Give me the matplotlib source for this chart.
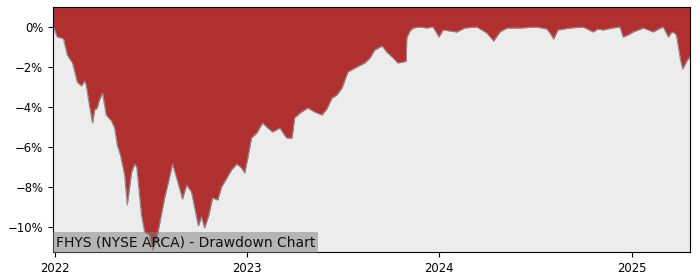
import pandas as pd
import matplotlib
matplotlib.use("Agg")
import matplotlib.pyplot as plt
import matplotlib.ticker as mticker

# drawdown of FHYS in percent
dates = [
    "2021-12-29", "2021-12-30", "2022-01-06", "2022-01-14", "2022-01-18", "2022-01-25",
    "2022-02-04", "2022-02-13", "2022-02-21", "2022-02-27", "2022-03-02", "2022-03-08",
    "2022-03-14", "2022-03-18", "2022-03-23", "2022-03-27", "2022-04-02", "2022-04-09",
    "2022-04-19", "2022-04-25", "2022-04-30", "2022-05-06", "2022-05-14", "2022-05-19",
    "2022-05-27", "2022-06-02", "2022-06-06", "2022-06-15", "2022-06-21", "2022-06-30",
    "2022-07-06", "2022-07-14", "2022-07-19", "2022-07-29", "2022-08-07", "2022-08-13",
    "2022-08-23", "2022-09-01", "2022-09-09", "2022-09-18", "2022-09-28", "2022-10-01",
    "2022-10-07", "2022-10-13", "2022-10-21", "2022-10-28", "2022-11-07", "2022-11-14",
    "2022-11-24", "2022-12-03", "2022-12-13", "2022-12-22", "2022-12-28", "2023-01-03",
    "2023-01-10", "2023-01-20", "2023-01-31", "2023-02-10", "2023-02-19", "2023-03-05",
    "2023-03-11", "2023-03-18", "2023-03-28", "2023-04-02", "2023-04-12", "2023-04-27",
    "2023-05-10", "2023-05-24", "2023-06-02", "2023-06-12", "2023-06-21", "2023-07-01",
    "2023-07-12", "2023-07-29", "2023-08-13", "2023-08-23", "2023-09-01", "2023-09-15",
    "2023-09-24", "2023-10-06", "2023-10-15", "2023-10-25", "2023-10-31", "2023-11-01",
    "2023-11-07", "2023-11-13", "2023-11-26", "2023-12-09", "2023-12-21", "2024-01-01",
    "2024-01-09", "2024-01-22", "2024-02-04", "2024-02-19", "2024-03-13", "2024-04-01",
    "2024-04-14", "2024-04-26", "2024-05-09", "2024-06-03", "2024-07-05", "2024-07-24",
    "2024-07-30", "2024-08-06", "2024-08-14", "2024-09-06", "2024-10-01", "2024-10-20",
    "2024-10-29", "2024-11-08", "2024-11-25", "2024-12-10", "2024-12-16", "2024-12-25",
    "2025-01-04", "2025-01-23", "2025-02-02", "2025-02-11", "2025-02-21", "2025-03-02",
    "2025-03-12", "2025-03-17", "2025-03-21", "2025-03-27", "2025-04-04", "2025-04-08",
    "2025-04-14", "2025-04-17", "2025-04-22",
]
drawdown = [
    0.0, 0.0, -0.5, -0.55, -0.6, -1.4,
    -1.8, -2.75, -2.95, -2.7, -2.9, -3.9,
    -4.8, -4.15, -4.05, -3.65, -3.3, -4.4,
    -4.7, -5.05, -5.9, -6.4, -7.4, -8.9,
    -7.3, -6.85, -7.0, -9.4, -10.25, -10.4,
    -11.15, -10.6, -9.9, -8.55, -7.55, -6.85,
    -7.75, -8.6, -7.9, -8.25, -9.55, -9.95,
    -9.5, -10.05, -9.4, -8.55, -8.65, -8.0,
    -7.55, -7.15, -6.85, -7.05, -7.3, -6.55,
    -5.55, -5.3, -4.8, -5.05, -5.25, -5.05,
    -5.3, -5.55, -5.55, -4.55, -4.3, -4.05,
    -4.25, -4.4, -4.1, -3.55, -3.4, -3.05,
    -2.25, -2.0, -1.8, -1.55, -1.15, -0.95,
    -1.25, -1.55, -1.8, -1.75, -1.7, -0.55,
    -0.2, -0.05, 0.0, -0.05, 0.0, -0.5,
    -0.15, -0.2, -0.25, -0.05, 0.0, -0.3,
    -0.7, -0.25, -0.05, -0.05, 0.0, -0.1,
    -0.3, -0.6, -0.15, -0.05, 0.0, -0.25,
    -0.1, -0.15, -0.05, 0.0, -0.5, -0.4,
    -0.25, -0.05, -0.15, -0.25, -0.1, 0.0,
    -0.5, -0.3, -0.25, -0.4, -1.65, -2.1,
    -1.8, -1.65, -1.5,
]
yticks = [0, -2, -4, -6, -8, -10]
xticks = ["2022-01-01", "2023-01-01", "2024-01-01", "2025-01-01"]
xticklabels = ["2022", "2023", "2024", "2025"]
title = "FHYS (NYSE ARCA) - Drawdown Chart"

x = pd.to_datetime(dates)
top = 1.0

fig = plt.figure(figsize=(7, 2.8), dpi=100)
ax = fig.add_axes([0.0757, 0.1, 0.91, 0.875])
ax.set_facecolor("#ececec")

ax.fill_between(x, drawdown, top, color="#b03030", linewidth=0)
ax.plot(x, drawdown, color="#8a8a8a", linewidth=0.8)

ax.set_xlim(x[0], x[-1])
ax.set_ylim(-11.25, top)
ax.set_yticks(yticks)
ax.yaxis.set_major_formatter(mticker.FuncFormatter(lambda v, p: "%d%%" % v if v >= 0 else "\u2212%d%%" % -v))
ax.set_xticks(pd.to_datetime(xticks))
ax.set_xticklabels(xticklabels)
ax.tick_params(labelsize=8.4)

ax.text(0.0047, 0.01, title, transform=ax.transAxes, fontsize=10, color="#111111",
        ha="left", va="bottom",
        bbox=dict(boxstyle="square,pad=0.22", facecolor="gray", alpha=0.5, edgecolor="none"))

fig.savefig("out.png", dpi=100)
